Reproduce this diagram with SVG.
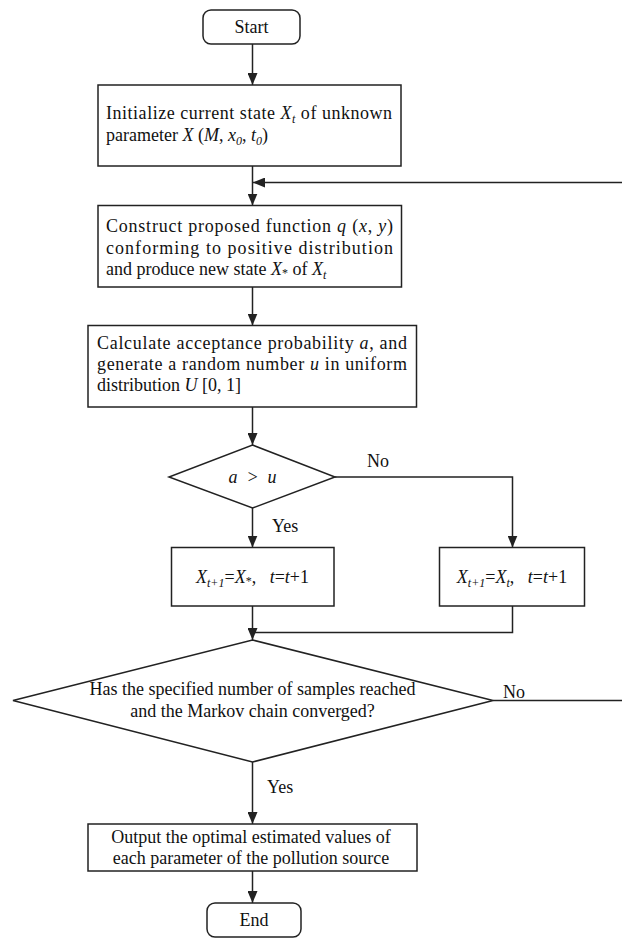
<svg xmlns="http://www.w3.org/2000/svg" width="622" height="938" viewBox="0 0 622 938" font-family="'Liberation Serif', 'Times New Roman', 'DejaVu Serif', serif">
<defs>
<marker id="ah" viewBox="0 0 12 10" refX="12" refY="5" markerWidth="12" markerHeight="10" markerUnits="userSpaceOnUse" orient="auto">
<path d="M0,0 L12,5 L0,10 Z" fill="#222"/>
</marker>
<style>
.n{fill:#fff;stroke:#222;stroke-width:1.5}
.c{fill:none;stroke:#222;stroke-width:1.5}
.a{marker-end:url(#ah)}
text{font-family:'Liberation Serif','Times New Roman','DejaVu Serif',serif;font-size:18px;fill:#111}
.i{font-style:italic}
.m{text-anchor:middle}
.s{font-size:12px}
</style>
</defs>
<rect width="622" height="938" fill="#fff"/>
<g id="connectors">
<path class="c a" d="M252.5,44 V85"/>
<path class="c a" d="M252.5,166 V205.5"/>
<path class="c a" d="M622,182.5 H253"/>
<path class="c a" d="M252.5,287 V325.5"/>
<path class="c a" d="M252.5,407 V445"/>
<path class="c a" d="M252.5,508 V547.5"/>
<path class="c a" d="M335,477 H512.5 V547.5"/>
<path class="c a" d="M252.5,606 V640"/>
<path class="c" d="M512.5,606 V632.5 H252.5"/>
<path class="c" d="M493,700.5 H622"/>
<path class="c a" d="M252.5,762 V824"/>
<path class="c a" d="M252.5,871 V903"/>
<text x="367" y="467">No</text>
<text x="272" y="532">Yes</text>
<text x="503" y="698">No</text>
<text x="267" y="793">Yes</text>
</g>
<g id="start">
<rect class="n" x="203" y="10" width="97" height="34" rx="8"/>
<text class="m" x="251.5" y="33">Start</text>
</g>
<g id="init">
<rect class="n" x="98" y="85" width="303" height="81"/>
<text x="106" y="119" textLength="286" lengthAdjust="spacing">Initialize current state <tspan class="i">X</tspan><tspan class="i s" dy="4">t</tspan><tspan dy="-4"> of unknown</tspan></text>
<text x="106" y="141">parameter <tspan class="i">X</tspan> (<tspan class="i">M</tspan>, <tspan class="i">x</tspan><tspan class="i s" dy="4">0</tspan><tspan dy="-4">, </tspan><tspan class="i">t</tspan><tspan class="i s" dy="4">0</tspan><tspan dy="-4">)</tspan></text>
</g>
<g id="construct">
<rect class="n" x="98" y="205.5" width="303.5" height="81.5"/>
<text x="106" y="232" textLength="287" lengthAdjust="spacing">Construct proposed function <tspan class="i">q</tspan> (<tspan class="i">x</tspan>, <tspan class="i">y</tspan>)</text>
<text x="106" y="254" textLength="287" lengthAdjust="spacing">conforming to positive distribution</text>
<text x="106" y="275">and produce new state <tspan class="i">X</tspan><tspan class="s" dy="2">*</tspan><tspan dy="-2"> of </tspan><tspan class="i">X</tspan><tspan class="i s" dy="4">t</tspan></text>
</g>
<g id="calculate">
<rect class="n" x="88" y="325.5" width="328.5" height="81.5"/>
<text x="97" y="349" textLength="310" lengthAdjust="spacing">Calculate acceptance probability <tspan class="i">a</tspan>, and</text>
<text x="97" y="370" textLength="310" lengthAdjust="spacing">generate a random number <tspan class="i">u</tspan> in uniform</text>
<text x="97" y="391">distribution <tspan class="i">U</tspan> [0, 1]</text>
</g>
<g id="decision1">
<polygon class="n" points="252.5,445 335,477 252.5,508 169,477"/>
<text class="m i" x="252.5" y="483" fill="#333" xml:space="preserve">a  &gt;  u</text>
</g>
<g id="accept">
<rect class="n" x="171.5" y="547.5" width="162.5" height="58.5"/>
<text class="m i" x="252.5" y="583"><tspan>X</tspan><tspan class="s" dy="4">t+1</tspan><tspan dy="-4" font-style="normal">=</tspan>X<tspan class="s" font-style="normal" dy="2">*</tspan><tspan dy="-2" font-style="normal" xml:space="preserve">,   </tspan>t<tspan font-style="normal">=</tspan>t<tspan font-style="normal">+1</tspan></text>
</g>
<g id="reject">
<rect class="n" x="439.5" y="547.5" width="145" height="58.5"/>
<text class="m i" x="512" y="583"><tspan>X</tspan><tspan class="s" dy="4">t+1</tspan><tspan dy="-4" font-style="normal">=</tspan>X<tspan class="s" dy="4">t</tspan><tspan dy="-4" font-style="normal" xml:space="preserve">,   </tspan>t<tspan font-style="normal">=</tspan>t<tspan font-style="normal">+1</tspan></text>
</g>
<g id="decision2">
<polygon class="n" points="252.5,640 493,700.5 252.5,762 13,700.5"/>
<text class="m" x="252.5" y="695">Has the specified number of samples reached</text>
<text class="m" x="252.5" y="717">and the Markov chain converged?</text>
</g>
<g id="output">
<rect class="n" x="88" y="824" width="329" height="47"/>
<text class="m" x="251" y="843">Output the optimal estimated values of</text>
<text class="m" x="251" y="864">each parameter of the pollution source</text>
</g>
<g id="end">
<rect class="n" x="207" y="903" width="94" height="34" rx="8"/>
<text class="m" x="254" y="926">End</text>
</g>
</svg>
